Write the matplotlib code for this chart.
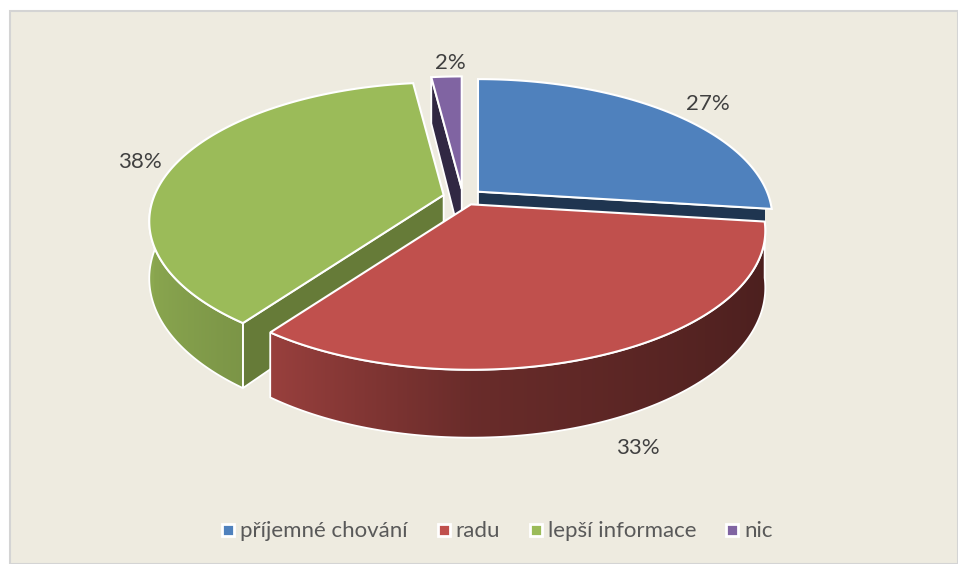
import numpy as np
import matplotlib.pyplot as plt
from matplotlib.patches import Polygon, Rectangle
from matplotlib.lines import Line2D
from matplotlib.colors import to_rgb

labels = ["příjemné chování", "radu", "lepší informace", "nic"]
values = [27, 33, 38, 2]
colors = ["#4F81BD", "#C0504D", "#9BBB59", "#8064A2"]
face_colors = ["#1F3550", "#5A2220", "#667B38", "#312843"]

W, H = 958, 564
cx, cy = 463, 197
rx, ry = 289, 134
persp = 0.19
depth = 55
ex, ey = 20, 8

plt.rcParams["font.family"] = ["Lato", "DejaVu Sans"]


def scale(t):
    return 1.0 / (1.0 + persp * np.cos(t))


def rim(t, ox, oy, drop=0.0, k=1.0):
    sc = scale(t)
    return ox + k * rx * np.sin(t) * sc, oy - k * ry * np.cos(t) * sc + drop * sc


def shade(col, sn):
    # side walls are lighter on the left, darker on the right
    f = np.interp(sn, [-1, -0.6, 0, 1], [0.9, 0.8, 0.55, 0.39])
    return np.array(to_rgb(col)) * f


fig = plt.figure(figsize=(W / 100, H / 100), dpi=100)
fig.patch.set_facecolor("white")
ax = fig.add_axes([0, 0, 1, 1])
ax.set_xlim(0, W)
ax.set_ylim(H, 0)
ax.axis("off")
ax.add_patch(Rectangle((10, 11), W - 10, H - 11, facecolor="#EEEBE0",
                       edgecolor="#D4D4D4", lw=1.5, zorder=0))

total = float(sum(values))
bounds = np.concatenate([[0], np.cumsum(values)]) / total * 2 * np.pi

walls = []
tops = []
right_limit = 0
for i, v in enumerate(values):
    a, b = bounds[i], bounds[i + 1]
    m = (a + b) / 2
    ox = cx + ex * np.sin(m)
    oy = cy - ey * np.cos(m)
    ts = np.linspace(a, b, max(int((b - a) * 60), 4))

    # top face
    xs, ys = rim(ts, ox, oy)
    pts = [(ox, oy)] + list(zip(xs, ys))
    tops.append((oy, pts, colors[i]))

    # radial cut faces facing the viewer
    for edge, normal in ((a, a - np.pi / 2), (b, b + np.pi / 2)):
        if np.cos(normal) < -0.05:
            x0, y0 = rim(edge, ox, oy)
            x1, y1 = rim(edge, ox, oy, depth)
            poly = [(ox, oy), (x0, y0), (x1, y1), (ox, oy + depth)]
            walls.append((np.mean([p[1] for p in poly]), poly, face_colors[i], None))

    # outer curved wall, front half only
    lo, hi = max(a, np.pi / 2), min(b, 3 * np.pi / 2)
    if hi - lo > 0.15:
        tw = np.linspace(lo, hi, 120)
        xt, yt = rim(tw, ox, oy)
        xb, yb = rim(tw, ox, oy, depth)
        right_limit = max(right_limit, xt.max())
        outline = list(zip(xt, yt)) + list(zip(xb[::-1], yb[::-1]))
        # colour per column, taken from the angle at that x
        order = np.argsort(xt)
        gx = np.arange(np.floor(xt.min()), np.ceil(xt.max()) + 1)
        gt = np.interp(gx, xt[order], tw[order])
        grad = np.array([shade(colors[i], np.sin(t)) for t in gt])[None, :, :]
        walls.append((np.mean(yt) + depth, outline, grad,
                      (gx[0], gx[-1], min(yt.min(), yb.min()), max(yt.max(), yb.max()))))

# cut faces are hidden behind the front slice past its right rim
face_clip = Rectangle((0, 0), right_limit - 0.5, H, transform=ax.transData)

z = 2
for key, poly, col, ext in sorted(walls, key=lambda w: w[0]):
    if ext is None:
        p = ax.add_patch(Polygon(poly, closed=True, facecolor=col, edgecolor="white",
                                 lw=1.3, zorder=z))
        p.set_clip_path(face_clip)
    else:
        clip = Polygon(poly, closed=True, facecolor="none", edgecolor="white",
                       lw=1.3, zorder=z + 0.5)
        ax.add_patch(clip)
        im = ax.imshow(col, extent=(ext[0], ext[1], ext[3], ext[2]),
                       aspect="auto", interpolation="bilinear", zorder=z)
        im.set_clip_path(clip)
    z += 1
ax.set_xlim(0, W)
ax.set_ylim(H, 0)

for key, pts, col in sorted(tops, key=lambda t: t[0]):
    ax.add_patch(Polygon(pts, closed=True, facecolor=col, edgecolor="white",
                         lw=1.5, zorder=z))
    z += 1

# percentage labels outside each slice
for i, v in enumerate(values):
    a, b = bounds[i], bounds[i + 1]
    m = (a + b) / 2
    ox = cx + ex * np.sin(m)
    oy = cy - ey * np.cos(m)
    drop = depth if np.cos(m) < 0 else 0
    lx, ly = rim(m, ox, oy, drop, k=1.16)
    ax.text(lx + 6, ly + 4, "%d%%" % round(v / total * 100), fontsize=16,
            color="#404040", ha="center", va="center", zorder=z + 1)

handles = [Line2D([], [], ls="none", marker="s", markersize=9,
                  markerfacecolor=c, markeredgecolor="white", markeredgewidth=2)
           for c in colors]
ax.legend(handles, labels, loc="center", bbox_to_anchor=(0.519, 0.058),
          ncol=4, frameon=False, fontsize=16, handlelength=0.6,
          handletextpad=0.25, columnspacing=1.3, labelcolor="#595959")

fig.savefig("out.png", dpi=100, facecolor=fig.get_facecolor())
